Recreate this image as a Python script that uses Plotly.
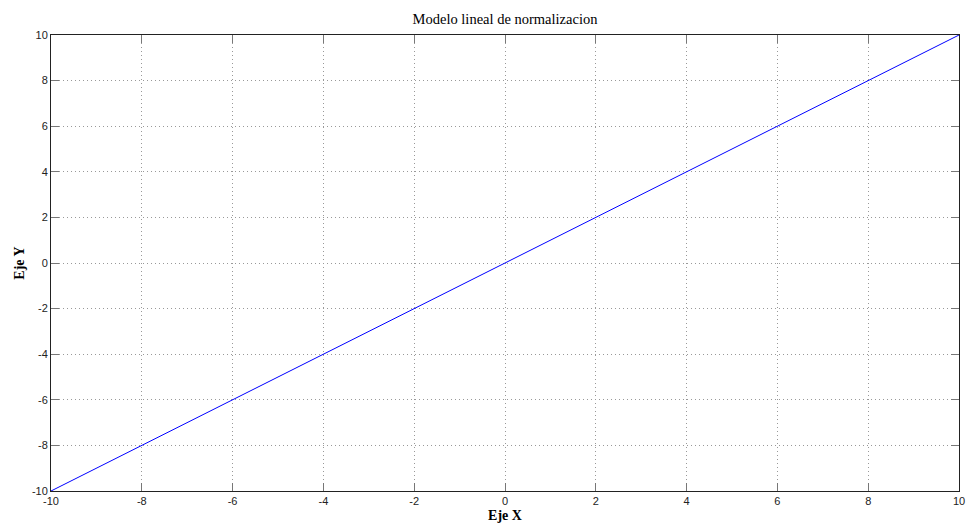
import plotly.graph_objects as go

x_vals = [-10, -8, -6, -4, -2, 0, 2, 4, 6, 8, 10]
y_vals = [-10, -8, -6, -4, -2, 0, 2, 4, 6, 8, 10]
tick_vals = [-10, -8, -6, -4, -2, 0, 2, 4, 6, 8, 10]
tick_text = ["-10", "-8", "-6", "-4", "-2", "0", "2", "4", "6", "8", "10"]

fig = go.Figure()
fig.add_trace(go.Scatter(x=x_vals, y=y_vals, mode="lines",
                         line=dict(color="rgb(0,0,255)", width=1), showlegend=False))

axis_common = dict(
    tickvals=tick_vals, ticktext=tick_text,
    ticks="inside", ticklen=8, tickwidth=1, tickcolor="#777777",
    showline=True, linecolor="#222222", linewidth=1, mirror="ticks",
    showgrid=True, gridcolor="#999999", griddash="1px,3px", gridwidth=1,
    zeroline=False, automargin=False,
    tickfont=dict(family="Liberation Sans, Arial", size=11, color="#222222"),
)

serif = "Liberation Serif, Times New Roman"

fig.update_layout(
    width=966, height=527,
    margin=dict(l=51, r=7, t=35, b=36),
    paper_bgcolor="white", plot_bgcolor="white",
    title=dict(text="Modelo lineal de normalizacion", xref="paper", x=0.5, xanchor="center",
               y=1 - 19 / 527, yanchor="middle",
               font=dict(family=serif, size=14.5, color="black")),
    xaxis=dict(range=[-10, 10], title=dict(text="<b>Eje X</b>", standoff=3,
               font=dict(family=serif, size=14, color="black")),
               **axis_common),
    yaxis=dict(range=[-10, 10], title=dict(text="<b>Eje Y</b>", standoff=3,
               font=dict(family=serif, size=14, color="black")),
               **axis_common),
)

fig.write_html("out.html")
